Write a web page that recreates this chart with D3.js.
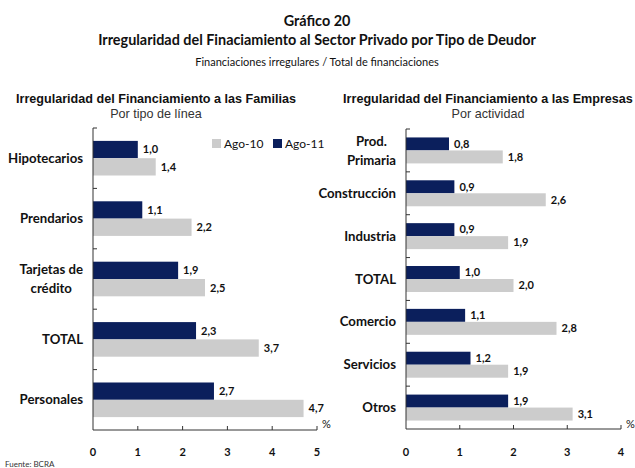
<!DOCTYPE html>
<html><head><meta charset="utf-8">
<script src="https://cdn.jsdelivr.net/npm/d3@7"></script>
<style>
html,body{margin:0;padding:0;background:#fff;}
svg{display:block;}
</style></head>
<body>
<script>
const familiasCats = [["Hipotecarios"], ["Prendarios"], ["Tarjetas de", "crédito"], ["TOTAL"], ["Personales"]];
const familiasAgo11 = [1.0, 1.1, 1.9, 2.3, 2.7];
const familiasAgo10 = [1.4, 2.2, 2.5, 3.7, 4.7];
const familiasTicks = [0, 1, 2, 3, 4, 5];

const empresasCats = [["Prod.", "Primaria"], ["Construcción"], ["Industria"], ["TOTAL"], ["Comercio"], ["Servicios"], ["Otros"]];
const empresasAgo11 = [0.8, 0.9, 0.9, 1.0, 1.1, 1.2, 1.9];
const empresasAgo10 = [1.8, 2.6, 1.9, 2.0, 2.8, 1.9, 3.1];
const empresasTicks = [0, 1, 2, 3, 4];

const seriesNames = ["Ago-11", "Ago-10"];
const legendNames = ["Ago-10", "Ago-11"];

const W = 635, H = 468;
const DARK = "#0b1f5c", GRAY = "#cccccc";
const GILL = "Lato, 'Open Sans', sans-serif";
const ARIAL = "'Liberation Sans', Arial, sans-serif";

const svg = d3.select("body").append("svg").attr("width", W).attr("height", H);

// Titles
svg.append("text").attr("x", 317).attr("y", 26).attr("text-anchor", "middle")
  .style("font-family", GILL).style("font-weight", "bold").style("font-size", "14.4px").attr("fill", "#111").text("Gráfico 20");
svg.append("text").attr("x", 317).attr("y", 45).attr("text-anchor", "middle")
  .style("font-family", GILL).style("font-weight", "bold").style("font-size", "14.4px").attr("fill", "#111")
  .text("Irregularidad del Finaciamiento al Sector Privado por Tipo de Deudor");
svg.append("text").attr("x", 317).attr("y", 66).attr("text-anchor", "middle")
  .style("font-family", GILL).style("font-size", "11px").attr("fill", "#111")
  .text("Financiaciones irregulares / Total de financiaciones");

function fmt(v) { return v.toFixed(1).replace(".", ","); }

function panel(opts) {
  const { cats, a11, a10, ticks, x0, x1, yTop, yBot, pad, title, sub, titleX } = opts;
  const g = svg.append("g");
  const x = d3.scaleLinear().domain([0, ticks[ticks.length - 1]]).range([x0, x1]);
  const idx = cats.map((d, i) => i);
  const y = d3.scaleBand().domain(idx).range([yTop, yBot]).paddingInner(0).paddingOuter(0);
  const y1 = d3.scaleBand().domain(seriesNames).range([0, y.bandwidth()]).paddingInner(0).paddingOuter(pad);

  g.append("text").attr("x", titleX).attr("y", 103).attr("text-anchor", "middle")
    .style("font-family", ARIAL).style("font-weight", "bold").style("font-size", "12.6px").attr("fill", "#111").text(title);
  g.append("text").attr("x", titleX).attr("y", 118).attr("text-anchor", "middle")
    .style("font-family", ARIAL).style("font-size", "12.6px").attr("fill", "#333").text(sub);

  const data = [];
  idx.forEach(i => {
    data.push({ i, s: "Ago-11", v: a11[i] });
    data.push({ i, s: "Ago-10", v: a10[i] });
  });

  g.selectAll("rect.bar").data(data).join("rect").attr("class", "bar")
    .attr("x", x(0)).attr("y", d => y(d.i) + y1(d.s))
    .attr("width", d => x(d.v) - x(0)).attr("height", y1.bandwidth())
    .attr("fill", d => d.s === "Ago-11" ? DARK : GRAY);

  g.selectAll("text.val").data(data).join("text").attr("class", "val")
    .attr("x", d => x(d.v) + 5).attr("y", d => y(d.i) + y1(d.s) + y1.bandwidth() / 2)
    .attr("dy", "0.35em")
    .style("font-family", GILL).style("font-weight", "bold").style("font-size", "11px").attr("fill", "#111")
    .text(d => fmt(d.v));

  // axes
  const axisColor = "#333";
  g.append("line").attr("x1", x0).attr("x2", x0).attr("y1", yTop).attr("y2", yBot).attr("stroke", axisColor);
  g.append("line").attr("x1", x0).attr("x2", x1).attr("y1", yBot).attr("y2", yBot).attr("stroke", axisColor);
  idx.forEach(i => {
    g.append("line").attr("x1", x0).attr("x2", x0 + 4).attr("y1", y(i)).attr("y2", y(i)).attr("stroke", axisColor);
  });
  ticks.forEach(t => {
    if (t > 0) g.append("line").attr("x1", x(t)).attr("x2", x(t)).attr("y1", yBot).attr("y2", yBot - 4).attr("stroke", axisColor);
    g.append("text").attr("x", x(t)).attr("y", 456).attr("text-anchor", "middle")
      .style("font-family", GILL).style("font-weight", "bold").style("font-size", "11px").attr("fill", "#111").text(t);
  });
  g.append("text").attr("x", x1 + 5).attr("y", 428)
    .style("font-family", GILL).style("font-size", "11px").attr("fill", "#111").text("%");

  // category labels
  const right = x0 - 10;
  idx.forEach(i => {
    const lines = cats[i];
    const cy = y(i) + y.bandwidth() / 2;
    const t = g.append("text").attr("text-anchor", "middle")
      .style("font-family", GILL).style("font-weight", "bold").style("font-size", "13.2px").attr("fill", "#111");
    const n = lines.length;
    lines.forEach((l, k) => {
      t.append("tspan").attr("y", cy + (k - (n - 1) / 2) * 19).attr("dy", "0.35em").text(l);
    });
    let mw = 0;
    t.selectAll("tspan").each(function () { mw = Math.max(mw, this.getComputedTextLength()); });
    t.selectAll("tspan").attr("x", right - mw / 2);
  });
  return { x, y };
}

panel({ cats: familiasCats, a11: familiasAgo11, a10: familiasAgo10, ticks: familiasTicks,
  x0: 93, x1: 317, yTop: 128, yBot: 430, pad: 0.745,
  title: "Irregularidad del Financiamiento a las Familias", sub: "Por tipo de línea", titleX: 156 });

panel({ cats: empresasCats, a11: empresasAgo11, a10: empresasAgo10, ticks: empresasTicks,
  x0: 406, x1: 621, yTop: 129, yBot: 429, pad: 0.65,
  title: "Irregularidad del Financiamiento a las Empresas", sub: "Por actividad", titleX: 488 });

// legend
const lg = svg.append("g");
const legX = [212, 273];
legendNames.forEach((n, i) => {
  lg.append("rect").attr("x", legX[i]).attr("y", 139).attr("width", 9).attr("height", 9)
    .attr("fill", n === "Ago-11" ? DARK : GRAY);
  lg.append("text").attr("x", legX[i] + 12).attr("y", 143.5).attr("dy", "0.35em")
    .style("font-family", GILL).style("font-size", "12px").attr("fill", "#111").text(n);
});

svg.append("text").attr("x", 5).attr("y", 467).style("font-family", GILL).style("font-size", "8px").attr("fill", "#333").text("Fuente: BCRA");
</script>
</body></html>
